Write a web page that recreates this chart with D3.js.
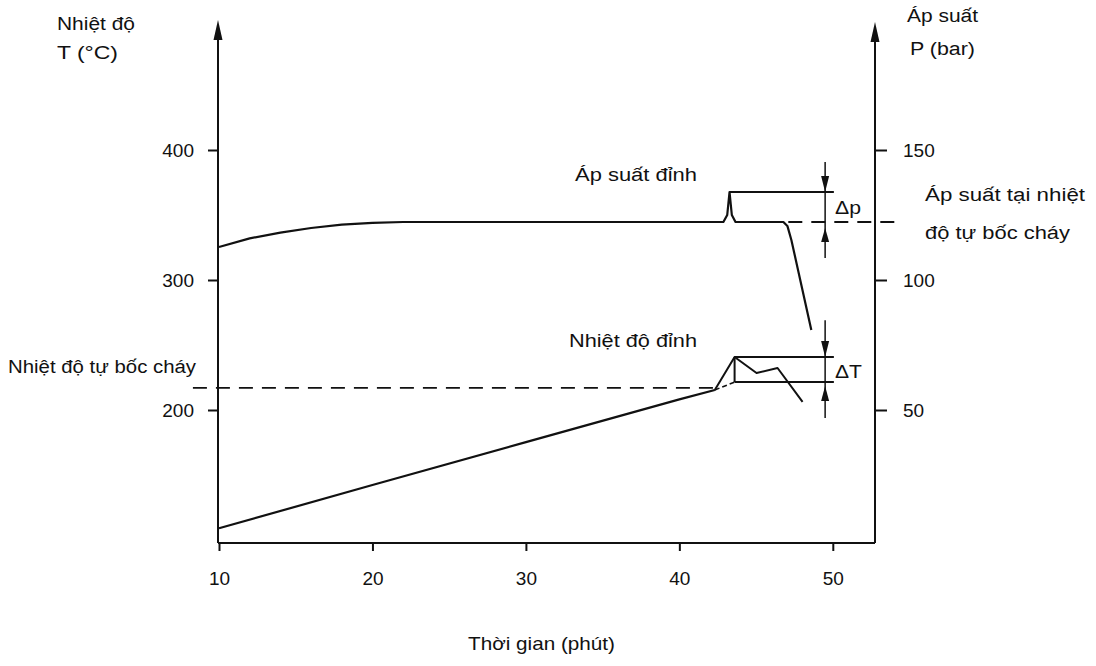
<!DOCTYPE html>
<html>
<head>
<meta charset="utf-8">
<script src="https://cdn.jsdelivr.net/npm/d3@7"></script>
<style>
  body { margin: 0; background: #fff; }
  svg text { font-family: "Liberation Sans", Arial, sans-serif; fill: #111; }
</style>
</head>
<body>
<svg width="1096" height="666"></svg>
<script>
// ---- data ----
const timeTicks = [10, 20, 30, 40, 50];
const tempTicks = [200, 300, 400];
const presTicks = [50, 100, 150];

// temperature rise before ignition (t in min, T in °C)
const tempTime = [10, 20, 30, 40, 42.31];
const tempVal  = [109, 142.3, 175.3, 208.2, 215.4];
// temperature after ignition
const peakTTime = [42.31, 43.6, 45.03, 46.4, 48.03];
const peakTVal  = [215.4, 240.8, 228.5, 232.3, 206.2];

// pressure curve (bar)
const presTime = [10, 12, 14, 16, 18, 20, 22, 42.87, 43.12, 43.27, 43.42, 43.66, 46.78, 47.04, 47.3, 48.6];
const presVal  = [112.7, 116, 118.2, 120, 121.3, 122, 122.3, 122.3, 125, 133.8, 125, 122.3, 122.3, 120.8, 115.4, 80.8];

const ignitionT = 217;      // °C, nhiệt độ tự bốc cháy
const ignitionP = 122.3;    // bar at ignition temperature
const peakT = 240.8, baseT = 221.5;
const peakP = 133.8;

// ---- layout ----
const svg = d3.select("svg");
const x = d3.scaleLinear().domain([10, 52.75]).range([219, 875]);
const yT = d3.scaleLinear().domain([100, 500]).range([540, 20]);
const yP = d3.scaleLinear().domain([0, 200]).range([540, 20]);
const axisBottomY = 543;
const ink = "#111";

const line = d3.line().x(d => x(d[0])).y(d => d[1]);
const tLine = d3.line().x(d => x(d[0])).y(d => yT(d[1]));
const pLine = d3.line().x(d => x(d[0])).y(d => yP(d[1]));

function arrowHead(g, cx, tipY, dir, len = 16, w = 4) {
  // dir = 1 points down, -1 points up
  const base = tipY - dir * len;
  g.append("path")
    .attr("d", `M${cx},${tipY}L${cx - w},${base}L${cx + w},${base}Z`)
    .attr("fill", ink);
}

// ---- axes ----
const axes = svg.append("g");
axes.append("line").attr("x1", 218).attr("x2", 218).attr("y1", axisBottomY).attr("y2", 30)
  .attr("stroke", ink).attr("stroke-width", 2);
arrowHead(axes, 218, 20, -1, 20, 4.5);
axes.append("line").attr("x1", 875).attr("x2", 875).attr("y1", axisBottomY).attr("y2", 30)
  .attr("stroke", ink).attr("stroke-width", 2);
arrowHead(axes, 875, 22, -1, 20, 4.5);

const xAxis = svg.append("g").attr("transform", `translate(0,${axisBottomY})`)
  .call(d3.axisBottom(x).tickValues(timeTicks).tickSize(8).tickPadding(21).tickFormat(d3.format("d")));
const yAxisL = svg.append("g").attr("transform", "translate(218,0)")
  .call(d3.axisLeft(yT).tickValues(tempTicks).tickSize(10).tickPadding(14));
const yAxisR = svg.append("g").attr("transform", "translate(875,0)")
  .call(d3.axisRight(yP).tickValues(presTicks).tickSize(12).tickPadding(16));
[xAxis, yAxisL, yAxisR].forEach(a => {
  a.select(".domain").remove();
  a.selectAll(".tick line").attr("stroke", ink).attr("stroke-width", 2);
  a.selectAll(".tick text").attr("font-size", 19).attr("fill", ink)
    .style("font-family", "'Liberation Sans', Arial, sans-serif");
});
svg.append("line").attr("x1", 218).attr("x2", 875).attr("y1", axisBottomY).attr("y2", axisBottomY)
  .attr("stroke", ink).attr("stroke-width", 2);

// ---- reference / dashed lines ----
const dash = "14,9";
svg.append("path")
  .attr("d", line([[8.3, yT(ignitionT)], [42.3, yT(ignitionT)]]))
  .attr("stroke", ink).attr("stroke-width", 1.8).attr("stroke-dasharray", dash).attr("fill", "none");
svg.append("path")
  .attr("d", line([[47.1, yP(ignitionP)], [54.4, yP(ignitionP)]]))
  .attr("stroke", ink).attr("stroke-width", 1.8).attr("stroke-dasharray", dash).attr("fill", "none");
// extrapolated temperature rise (dashed)
svg.append("path")
  .attr("d", tLine([[42.31, 215.4], [43.6, baseT]]))
  .attr("stroke", ink).attr("stroke-width", 1.6).attr("stroke-dasharray", "5,3").attr("fill", "none");

// ---- curves ----
svg.append("path")
  .attr("d", pLine(d3.zip(presTime, presVal)))
  .attr("fill", "none").attr("stroke", ink).attr("stroke-width", 2.2)
  .attr("stroke-linejoin", "round");
svg.append("path")
  .attr("d", tLine(d3.zip(tempTime, tempVal)))
  .attr("fill", "none").attr("stroke", ink).attr("stroke-width", 2.2);
svg.append("path")
  .attr("d", tLine(d3.zip(peakTTime, peakTVal)))
  .attr("fill", "none").attr("stroke", ink).attr("stroke-width", 2)
  .attr("stroke-linejoin", "round");

// peak levels
svg.append("path").attr("d", pLine([[43.27, peakP], [50.07, peakP]]))
  .attr("stroke", ink).attr("stroke-width", 2).attr("fill", "none");
svg.append("path").attr("d", tLine([[43.6, peakT], [50.07, peakT]]))
  .attr("stroke", ink).attr("stroke-width", 2).attr("fill", "none");
svg.append("path").attr("d", tLine([[43.6, baseT], [50.07, baseT]]))
  .attr("stroke", ink).attr("stroke-width", 2).attr("fill", "none");
svg.append("path").attr("d", tLine([[43.6, peakT], [43.6, baseT]]))
  .attr("stroke", ink).attr("stroke-width", 2).attr("fill", "none");

// ---- Δ arrows ----
const ax = x(49.5);
const ann = svg.append("g");
ann.append("line").attr("x1", ax).attr("x2", ax).attr("y1", yP(145.4)).attr("y2", yP(108.5))
  .attr("stroke", ink).attr("stroke-width", 1.5);
arrowHead(ann, ax, yP(peakP), 1);
arrowHead(ann, ax, yP(ignitionP) + 6, -1, 14);
ann.append("line").attr("x1", ax).attr("x2", ax).attr("y1", yT(269)).attr("y2", yT(193.8))
  .attr("stroke", ink).attr("stroke-width", 1.5);
arrowHead(ann, ax, yT(peakT), 1);
arrowHead(ann, ax, yT(baseT) + 4, -1, 15);

// ---- texts ----
function label(txt, tx, ty, w, size = 19, anchor = "start") {
  svg.append("text").attr("x", tx).attr("y", ty).attr("font-size", size)
    .attr("text-anchor", anchor)
    .attr("textLength", w).attr("lengthAdjust", "spacingAndGlyphs")
    .text(txt);
}
label("Nhiệt độ", 57, 30, 78, 18);
label("T (°C)", 57, 59, 61, 18);
label("Áp suất", 907, 22, 71, 18);
label("P (bar)", 910, 55, 65, 18);
label("Áp suất đỉnh", 575, 181, 122, 18);
label("Δp", 835, 214, 26, 18);
label("Áp suất tại nhiệt", 925, 201, 160, 18);
label("độ tự bốc cháy", 925, 239, 145, 18);
label("Nhiệt độ đỉnh", 569, 347, 128, 18);
label("ΔT", 835, 378, 27, 19);
label("Nhiệt độ tự bốc cháy", 8, 373, 188, 18);
label("Thời gian (phút)", 468, 650, 147, 19);
</script>
</body>
</html>
